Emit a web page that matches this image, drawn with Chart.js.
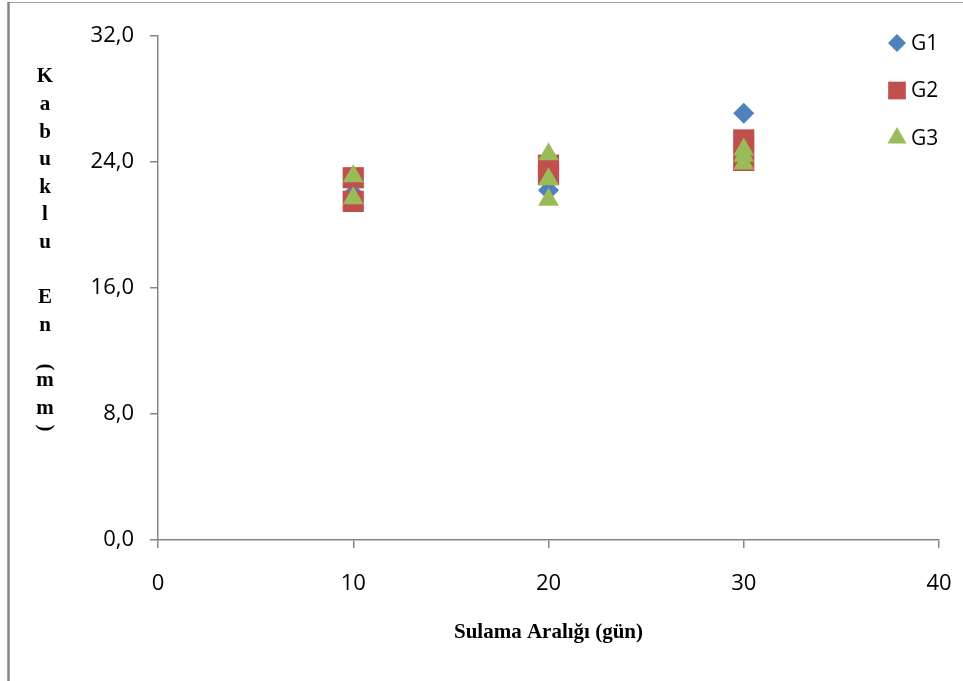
<!DOCTYPE html>
<html>
<head>
<meta charset="utf-8">
<script src="https://cdn.jsdelivr.net/npm/chart.js@4.4.1/dist/chart.umd.min.js"></script>
<style>
  html, body { margin: 0; padding: 0; background: #fff; }
  canvas { display: block; }
</style>
</head>
<body>
<canvas id="myChart" width="963" height="681"></canvas>
<script>
// values
const seriesNames = ['G1', 'G2', 'G3'];
const g1X = [10, 20, 30, 30];
const g1Y = [22.0, 22.2, 27.1, 24.1];
const g2X = [10, 10, 20, 20, 30, 30];
const g2Y = [23.0, 21.5, 23.8, 23.2, 25.4, 24.1];
const g3X = [10, 10, 20, 20, 20, 30, 30, 30];
const g3Y = [23.1, 21.7, 24.5, 22.9, 21.6, 24.8, 24.4, 23.9];
const xTicks = [0, 10, 20, 30, 40];
const yTicks = [0, 8, 16, 24, 32];
const xTitle = 'Sulama Aralığı (gün)';
const yTitleChars = ['K', 'a', 'b', 'u', 'k', 'l', 'u', '', 'E', 'n', '(', 'm', 'm', ')'];

const colors = ['#4F81BD', '#C0504D', '#9BBB59'];
const styles = ['rectRot', 'rect', 'triangle'];
const radii = [10.5, 15, 12];

const toPoints = (xs, ys) => xs.map((x, i) => ({ x: x, y: ys[i] }));
const allX = [g1X, g2X, g3X];
const allY = [g1Y, g2Y, g3Y];

const framePlugin = {
  id: 'frame',
  beforeDraw(chart) {
    const ctx = chart.ctx;
    ctx.save();
    ctx.fillStyle = '#fff';
    ctx.fillRect(0, 0, chart.width, chart.height);
    ctx.strokeStyle = '#a0a0a0';
    ctx.lineWidth = 1;
    ctx.beginPath();
    ctx.moveTo(8, 2.5);
    ctx.lineTo(chart.width, 2.5);
    ctx.stroke();
    ctx.strokeStyle = '#858585';
    ctx.lineWidth = 2.5;
    ctx.beginPath();
    ctx.moveTo(8.5, 2);
    ctx.lineTo(8.5, chart.height);
    ctx.stroke();
    ctx.restore();
  }
};

// stacked, one letter per line, like the original
const yTitlePlugin = {
  id: 'yTitle',
  afterDraw(chart) {
    const ctx = chart.ctx;
    ctx.save();
    ctx.fillStyle = '#000';
    ctx.font = 'bold 21px "Liberation Serif"';
    ctx.textAlign = 'center';
    ctx.textBaseline = 'middle';
    yTitleChars.forEach((c, i) => {
      if (!c) return;
      let y = 77 + i * 27.6;
      if (c === '(' || c === ')') {
        y = c === '(' ? 367 : 428;
        ctx.save();
        ctx.translate(45, y);
        ctx.rotate(Math.PI / 2);
        ctx.fillText(c, 0, 0);
        ctx.restore();
      } else {
        ctx.fillText(c, 45, y);
      }
    });
    ctx.restore();
  }
};

const legendPlugin = {
  id: 'sideLegend',
  afterDraw(chart) {
    const ctx = chart.ctx;
    const legendRadii = [9, 12.5, 11];
    ctx.save();
    ctx.font = '21px "Open Sans"';
    ctx.textBaseline = 'middle';
    ctx.textAlign = 'left';
    seriesNames.forEach((name, i) => {
      const y = 43 + i * 47.5;
      ctx.fillStyle = colors[i];
      ctx.strokeStyle = colors[i];
      Chart.helpers.drawPoint(ctx, { pointStyle: styles[i], radius: legendRadii[i], rotation: 0, borderWidth: 0 }, 897, y);
      ctx.fillStyle = '#000';
      ctx.fillText(name, 911, y + 1);
    });
    ctx.restore();
  }
};

const datasets = seriesNames.map((name, i) => ({
  label: name,
  data: toPoints(allX[i], allY[i]),
  pointStyle: styles[i],
  pointRadius: radii[i],
  pointHoverRadius: radii[i],
  pointBorderWidth: 0,
  backgroundColor: colors[i],
  borderColor: colors[i],
  order: seriesNames.length - i
}));

const axisColor = '#868686';
const tickFont = { family: '"Open Sans"', size: 22 };

new Chart(document.getElementById('myChart'), {
  type: 'scatter',
  data: { datasets: datasets },
  options: {
    responsive: false,
    animation: false,
    layout: { padding: { left: 0, right: 24, top: 36, bottom: 0 } },
    plugins: {
      legend: { display: false },
      tooltip: { enabled: false }
    },
    scales: {
      x: {
        type: 'linear',
        min: xTicks[0],
        max: xTicks[xTicks.length - 1],
        afterBuildTicks: (scale) => { scale.ticks = xTicks.map(v => ({ value: v })); },
        afterFit: (scale) => {
          scale.height = 141;
          scale.paddingLeft = 0;
          scale.paddingRight = 0;
        },
        grid: { drawOnChartArea: false, drawTicks: true, tickLength: 8, color: axisColor, lineWidth: 1.5 },
        border: { color: axisColor, width: 1.5 },
        ticks: { color: '#000', font: tickFont, padding: 23, maxRotation: 0 },
        title: {
          display: true,
          text: xTitle,
          color: '#000',
          font: { family: '"Liberation Serif"', size: 21, weight: 'bold' },
          padding: { top: 0, bottom: 36 }
        }
      },
      y: {
        min: yTicks[0],
        max: yTicks[yTicks.length - 1],
        afterBuildTicks: (scale) => { scale.ticks = yTicks.map(v => ({ value: v })); },
        afterFit: (scale) => {
          scale.width = 158;
          scale.paddingTop = 0;
          scale.paddingBottom = 0;
        },
        grid: { drawOnChartArea: false, drawTicks: true, tickLength: 8, color: axisColor, lineWidth: 1.5 },
        border: { color: axisColor, width: 1.5 },
        ticks: {
          color: '#000',
          font: tickFont,
          padding: 16,
          callback: (v) => v.toFixed(1).replace('.', ',')
        }
      }
    }
  },
  plugins: [framePlugin, yTitlePlugin, legendPlugin]
});
</script>
</body>
</html>
